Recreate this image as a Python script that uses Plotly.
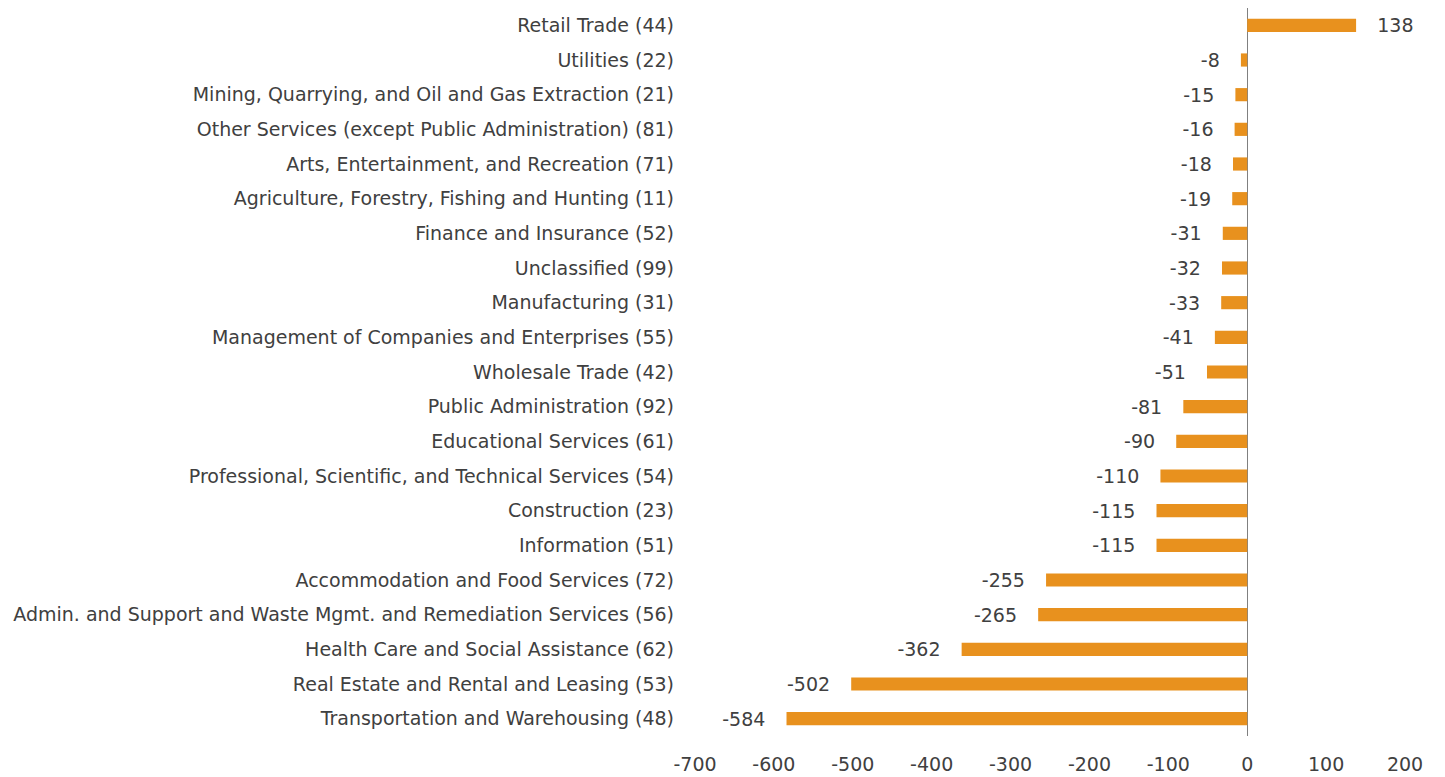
import plotly.graph_objects as go

industries = [
    "Retail Trade (44)",
    "Utilities (22)",
    "Mining, Quarrying, and Oil and Gas Extraction (21)",
    "Other Services (except Public Administration) (81)",
    "Arts, Entertainment, and Recreation (71)",
    "Agriculture, Forestry, Fishing and Hunting (11)",
    "Finance and Insurance (52)",
    "Unclassified (99)",
    "Manufacturing (31)",
    "Management of Companies and Enterprises (55)",
    "Wholesale Trade (42)",
    "Public Administration (92)",
    "Educational Services (61)",
    "Professional, Scientific, and Technical Services (54)",
    "Construction (23)",
    "Information (51)",
    "Accommodation and Food Services (72)",
    "Admin. and Support and Waste Mgmt. and Remediation Services (56)",
    "Health Care and Social Assistance (62)",
    "Real Estate and Rental and Leasing (53)",
    "Transportation and Warehousing (48)",
]
change = [138, -8, -15, -16, -18, -19, -31, -32, -33, -41, -51, -81, -90,
          -110, -115, -115, -255, -265, -362, -502, -584]

x_ticks = list(range(-700, 201, 100))
x_tick_text = [str(v) for v in x_ticks]

pad = "\u00a0\u00a0\u00a0"
labels = [pad + str(v) if v >= 0 else str(v) + pad for v in change]

font = "DejaVu Sans"
size = 19
grey = "#404040"

fig = go.Figure(go.Bar(
    y=industries,
    x=change,
    orientation="h",
    marker=dict(color="#E8911E", line=dict(width=0)),
    text=labels,
    textposition="outside",
    constraintext="none",
    cliponaxis=False,
    textfont=dict(family=font, size=size, color=grey),
))

# page body has an 8px margin, so the figure is a bit smaller than the window
fig.update_layout(
    width=1437,
    height=769,
    margin=dict(l=687, r=40, t=0, b=41, autoexpand=False),
    plot_bgcolor="white",
    paper_bgcolor="white",
    bargap=0.62,
    showlegend=False,
    font=dict(family=font, size=size, color=grey),
)
fig.update_xaxes(
    range=[-700, 200],
    tickvals=x_ticks,
    ticktext=x_tick_text,
    showgrid=False,
    zeroline=True,
    zerolinecolor="#808080",
    zerolinewidth=1,
    showline=False,
    automargin=False,
    ticklabelstandoff=15,
    tickfont=dict(family=font, size=size, color=grey),
)
fig.update_yaxes(
    autorange="reversed",
    showgrid=False,
    showline=False,
    automargin=False,
    ticklabelstandoff=20,
    tickfont=dict(family=font, size=size, color=grey),
)

fig.write_html("out.html")
